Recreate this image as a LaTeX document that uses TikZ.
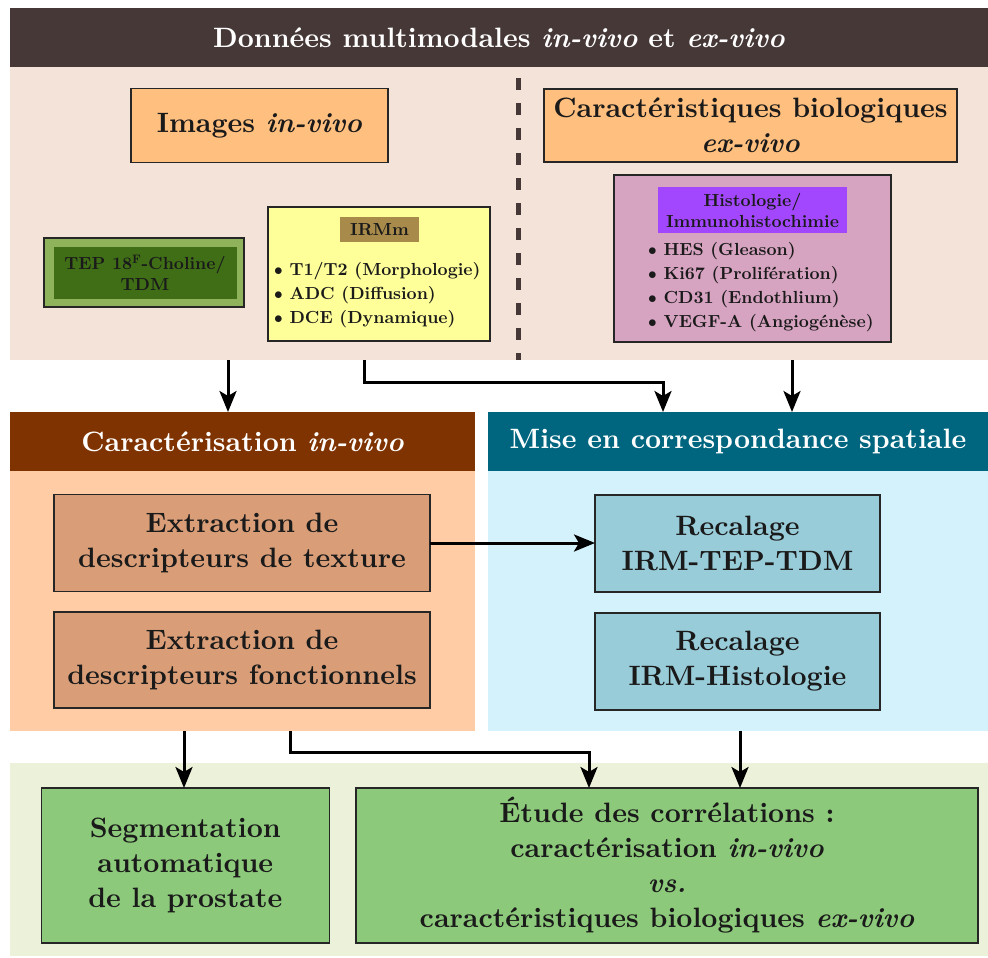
\documentclass[tikz,border=0pt]{standalone}
\usepackage{fontspec}
\setmainfont{lmroman10-regular.otf}[BoldFont=lmroman10-bold.otf, ItalicFont=lmroman10-italic.otf, BoldItalicFont=lmroman10-bolditalic.otf]
\usetikzlibrary{arrows.meta}
\definecolor{titlebg}{HTML}{473838}
\definecolor{topbg}{HTML}{F3E3D8}
\definecolor{orangebox}{HTML}{FFBF7F}
\definecolor{tepout}{HTML}{8EB35B}
\definecolor{tepin}{HTML}{3F6E17}
\definecolor{yellowbox}{HTML}{FFFF99}
\definecolor{irmlabel}{HTML}{A88B4B}
\definecolor{histobox}{HTML}{D6A3C0}
\definecolor{histolabel}{HTML}{A347FF}
\definecolor{caracHc}{HTML}{7F3300}
\definecolor{caracBc}{HTML}{FFCCA6}
\definecolor{miseHc}{HTML}{006680}
\definecolor{miseBc}{HTML}{D4F2FC}
\definecolor{extrbox}{HTML}{D99E78}
\definecolor{recbox}{HTML}{99CCD9}
\definecolor{botbg}{HTML}{ECF2DA}
\definecolor{greenbox}{HTML}{8CC97A}
\definecolor{boxline}{HTML}{262626}
\definecolor{txt}{HTML}{1A1A1A}
\newcommand\BigT{\fontsize{28}{35}\selectfont\bfseries}
\newcommand\SmallT{\fontsize{17.5}{21}\selectfont\bfseries}
\begin{document}
\begin{tikzpicture}[x=1pt,y=-1pt,
  region/.style={inner sep=0pt, outer sep=0pt, anchor=north west, draw=none},
  box/.style={draw=boxline, line width=1.5pt, inner sep=0pt, outer sep=0pt, align=center, text=txt},
  item/.style={inner sep=0pt, anchor=base west, font=\SmallT, text=txt},
  arr/.style={line width=3pt, -{Stealth[length=21pt,width=17pt,inset=5pt]}}]
\useasboundingbox (0,0) rectangle (988,958);
% regions
\node[region, fill=titlebg, minimum width=978, minimum height=59, text=white, font=\BigT] (title) at (10,8) {Données multimodales \textit{in-vivo} et \textit{ex-vivo}};
\node[region, fill=topbg, minimum width=978, minimum height=293] (topbg) at (10,67) {};
\draw[line width=5pt, titlebg, dash pattern=on 12pt off 13pt] (518,78) -- (518,360);
\node[region, fill=caracHc, minimum width=465, minimum height=59, text=white, font=\BigT] (caracH) at (10,412) {Caractérisation \textit{in-vivo}};
\node[region, fill=caracBc, minimum width=465, minimum height=260] (caracB) at (10,471) {};
\node[region, fill=miseHc, minimum width=500, minimum height=59, text=white, font=\BigT] (miseH) at (488,412) {Mise en correspondance spatiale};
\node[region, fill=miseBc, minimum width=500, minimum height=260] (miseB) at (488,471) {};
\node[region, fill=botbg, minimum width=978, minimum height=193] (botbg) at (10,763) {};
% top boxes
\node[box, fill=orangebox, minimum width=257, minimum height=74, font=\BigT] (images) at (259.5,125.5) {Images \textit{in-vivo}};
\node[box, fill=orangebox, minimum width=413, minimum height=73, font=\BigT] (carac) at (750.5,125.5) {Caractéristiques biologiques\\\textit{ex-vivo}};
\node[box, fill=tepout, minimum width=200, minimum height=69] (tep) at (144,272.5) {};
\node[inner sep=0pt, fill=tepin, minimum width=183, minimum height=52, align=center, font=\SmallT, text=txt] (tepin) at (145,273) {TEP 18\textsuperscript{F}-Choline/\\TDM};
\node[box, fill=yellowbox, minimum width=222, minimum height=134] (irm) at (379,274) {};
\node[inner sep=0pt, fill=irmlabel, minimum width=79, minimum height=25, font=\SmallT, text=txt] (irmlab) at (379.5,229.5) {IRMm};
\node[item] (irm1) at (274,275) {$\bullet$ T1/T2 (Morphologie)};
\node[item] (irm2) at (274,299) {$\bullet$ ADC (Diffusion)};
\node[item] (irm3) at (274,323) {$\bullet$ DCE (Dynamique)};
\node[box, fill=histobox, minimum width=277, minimum height=167] (histo) at (752.5,258.5) {};
\node[inner sep=0pt, fill=histolabel, minimum width=189, minimum height=46, align=center, font=\SmallT, text=txt] (histolab) at (752.5,210) {Histologie/\\Immunohistochimie};
\node[item] (h1) at (648,255) {$\bullet$ HES (Gleason)};
\node[item] (h2) at (648,279) {$\bullet$ Ki67 (Prolifération)};
\node[item] (h3) at (648,303) {$\bullet$ CD31 (Endothlium)};
\node[item] (h4) at (648,327) {$\bullet$ VEGF-A (Angiogénèse)};
% middle boxes
\node[box, fill=extrbox, minimum width=376, minimum height=97, font=\BigT] (tex) at (242,543) {Extraction de\\descripteurs de texture};
\node[box, fill=extrbox, minimum width=376, minimum height=96, font=\BigT] (fonc) at (242,660) {Extraction de\\descripteurs fonctionnels};
\node[box, fill=recbox, minimum width=285, minimum height=97, font=\BigT] (rec1) at (737.5,543.5) {Recalage\\IRM-TEP-TDM};
\node[box, fill=recbox, minimum width=285, minimum height=97, font=\BigT] (rec2) at (737.5,661.5) {Recalage\\IRM-Histologie};
% bottom boxes
\node[box, fill=greenbox, minimum width=288, minimum height=155, font=\BigT] (seg) at (185.3,865.5) {Segmentation\\automatique\\de la prostate};
\node[box, fill=greenbox, minimum width=622, minimum height=155, font=\BigT] (etude) at (667,865.5) {Étude des corrélations :\\caractérisation \textit{in-vivo}\\\textit{vs.}\\caractéristiques biologiques \textit{ex-vivo}};
% connectors
\coordinate (a1) at (228,0);
\coordinate (a2) at (364,0);
\coordinate (a2m) at (663,382);
\coordinate (a3) at (792,0);
\coordinate (b1) at (184,0);
\coordinate (b2) at (290,0);
\coordinate (b2m) at (589,752);
\coordinate (b3) at (740,0);
\draw[arr] (topbg.south -| a1) -- (caracH.north -| a1);
\draw[arr] (topbg.south -| a2) |- (a2m) -- (miseH.north -| a2m);
\draw[arr] (topbg.south -| a3) -- (miseH.north -| a3);
\draw[arr] (tex.east) -- (tex.east -| rec1.west);
\draw[arr] (caracB.south -| b1) -- (seg.north -| b1);
\draw[arr] (caracB.south -| b2) |- (b2m) -- (etude.north -| b2m);
\draw[arr] (miseB.south -| b3) -- (etude.north -| b3);
\end{tikzpicture}
\end{document}
